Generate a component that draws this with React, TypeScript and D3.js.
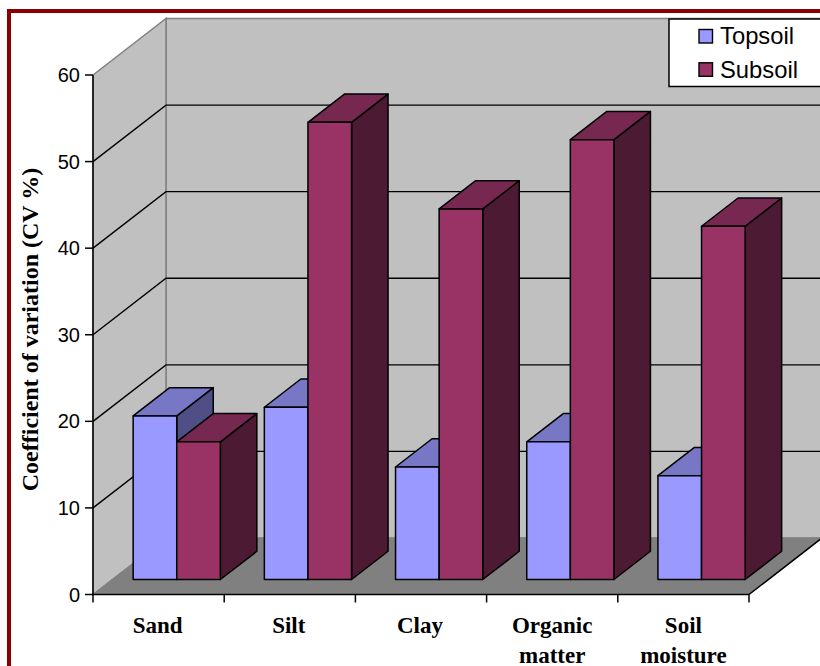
import React from "react";
import * as d3 from "d3";

const categories = ["Sand", "Silt", "Clay", "Organic matter", "Soil moisture"];
const categoryLines = [["Sand"], ["Silt"], ["Clay"], ["Organic", "matter"], ["Soil", "moisture"]];
const seriesNames = ["Topsoil", "Subsoil"];
const topsoil = [18.9, 19.9, 13, 15.9, 12];
const subsoil = [15.9, 52.8, 42.8, 50.8, 40.8];
const yTicks = [0, 10, 20, 30, 40, 50, 60];

const faceColors = [
  { front: "#9999FF", top: "#7777C6", side: "#4F4F85" },
  { front: "#993366", top: "#772850", side: "#4D1A33" },
];

const W = 820;
const H = 666;

// Chart box front plane and the oblique vector that carries it to the back wall.
const x = d3.scaleBand<string>().domain(categories).range([93, 749]).paddingInner(0).paddingOuter(0);
const y = d3.scaleLinear().domain([0, 60]).range([594.5, 75]);
const depthX = 73;
const depthY = -56.5;

// Bars sit a little behind the front edge of the floor and fill half of the depth.
const barInset = 0.265;
const barDepth = 0.5;
const barWidth = 43.6;
const barLead = 20.8;

const pts = (p: [number, number][]) => p.map((d) => d.join(",")).join(" ");

function Bar3D({ left, value, colors }: { left: number; value: number; colors: (typeof faceColors)[number] }) {
  const dx = barDepth * depthX;
  const dy = barDepth * depthY;
  const base = y(0) + barInset * depthY;
  const top = y(value) + barInset * depthY;
  const right = left + barWidth;
  const common = { stroke: "#000", strokeWidth: 1.5, strokeLinejoin: "round" as const };
  return (
    <g>
      <polygon points={pts([[right, top], [right + dx, top + dy], [right + dx, base + dy], [right, base]])} fill={colors.side} {...common} />
      <polygon points={pts([[left, top], [left + dx, top + dy], [right + dx, top + dy], [right, top]])} fill={colors.top} {...common} />
      <rect x={left} y={top} width={barWidth} height={base - top} fill={colors.front} {...common} />
    </g>
  );
}

export default function App() {
  const [x0, x1] = x.range();
  const y0 = y(0);
  const yMax = y(60);
  const backL = x0 + depthX;
  const backR = x1 + depthX;
  const sans = "'Liberation Sans', Arial, sans-serif";
  const serif = "'Liberation Serif', 'Times New Roman', serif";

  return (
    <svg width={W} height={H} style={{ position: "absolute", left: 0, top: 0, display: "block", background: "#fff" }}>
      {/* Outer frame: only the top and left edges fall inside the canvas */}
      <rect x={9} y={11} width={W + 20} height={H + 20} fill="#fff" stroke="#8B0000" strokeWidth={4} />

      {/* Walls and floor */}
      <polygon points={pts([[backL, yMax + depthY], [backR, yMax + depthY], [backR, y0 + depthY], [backL, y0 + depthY]])} fill="#C0C0C0" stroke="#808080" strokeWidth={1.5} />
      <polygon points={pts([[x0, yMax], [backL, yMax + depthY], [backL, y0 + depthY], [x0, y0]])} fill="#C0C0C0" stroke="#808080" strokeWidth={1.5} />
      <polygon points={pts([[x0, y0], [x1, y0], [backR, y0 + depthY], [backL, y0 + depthY]])} fill="#808080" stroke="#808080" strokeWidth={1} />

      {/* Gridlines wrap from the left wall onto the back wall */}
      {yTicks.filter((t) => t > 0 && t < 60).map((t) => (
        <polyline key={t} points={pts([[x0, y(t)], [backL, y(t) + depthY], [backR, y(t) + depthY]])} fill="none" stroke="#000" strokeWidth={1.4} />
      ))}
      <line x1={x1} y1={y0} x2={backR} y2={y0 + depthY} stroke="#000" strokeWidth={1.5} />

      {/* Bars */}
      {categories.map((c, i) => {
        const left = (x(c) as number) + barLead + barInset * depthX;
        return (
          <g key={c}>
            <Bar3D left={left} value={topsoil[i]} colors={faceColors[0]} />
            <Bar3D left={left + barWidth} value={subsoil[i]} colors={faceColors[1]} />
          </g>
        );
      })}

      {/* Value axis */}
      <line x1={x0} y1={yMax} x2={x0} y2={y0} stroke="#000" strokeWidth={1.5} />
      {yTicks.map((t) => (
        <g key={t}>
          <line x1={x0 - 8} x2={x0} y1={y(t)} y2={y(t)} stroke="#000" strokeWidth={1.5} />
          <text x={x0 - 13} y={y(t) + 7} textAnchor="end" fontFamily={sans} fontSize={20} fill="#000">{t}</text>
        </g>
      ))}
      <text transform="translate(38,329.5) rotate(-90)" textAnchor="middle" fontFamily={serif} fontWeight="bold" fontSize={24} fill="#000">
        Coefficient of variation (CV %)
      </text>

      {/* Category axis */}
      <line x1={x0} y1={y0} x2={x1} y2={y0} stroke="#000" strokeWidth={1.5} />
      {[...categories.map((c) => x(c) as number), x1].map((t) => (
        <line key={t} x1={t} x2={t} y1={y0} y2={y0 + 8} stroke="#000" strokeWidth={1.5} />
      ))}
      {categories.map((c, i) => (
        <text key={c} textAnchor="middle" fontFamily={serif} fontWeight="bold" fontSize={23} fill="#000">
          {categoryLines[i].map((line, j) => (
            <tspan key={line} x={(x(c) as number) + x.bandwidth() / 2 + (i < 3 ? -1 : 0)} y={633 + j * 30}>{line}</tspan>
          ))}
        </text>
      ))}

      {/* Legend */}
      <rect x={669} y={19} width={W} height={67.5} fill="#fff" stroke="#000" strokeWidth={1.5} />
      {seriesNames.map((name, i) => (
        <g key={name}>
          <rect x={699} y={29.5 + i * 33.3} width={13.5} height={13.5} fill={faceColors[i].front} stroke="#000" strokeWidth={1.4} />
          <text x={720} y={44.3 + i * 33.3} fontFamily={sans} fontSize={23.8} fill="#000">{name}</text>
        </g>
      ))}
    </svg>
  );
}
